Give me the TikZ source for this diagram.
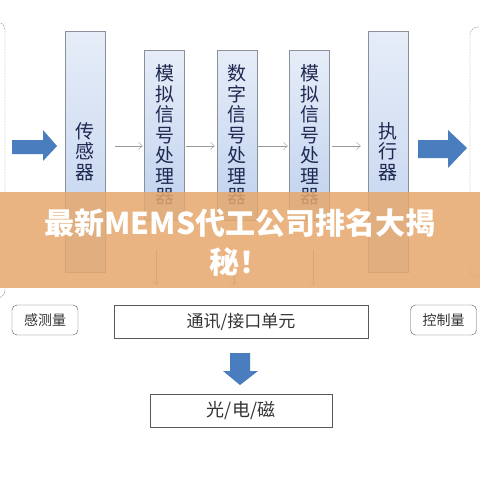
\documentclass[tikz,border=0pt]{standalone}
\usepackage{fontspec}
\setmainfont{Noto Sans CJK SC}
\usetikzlibrary{arrows.meta}
\definecolor{boxline}{HTML}{8A8F99}
\definecolor{boxtop}{HTML}{E6EDF8}
\definecolor{boxbot}{HTML}{BFD1EE}
\definecolor{textnavy}{HTML}{1E2850}
\definecolor{arrowblue}{HTML}{4A7DBE}
\definecolor{flowgray}{HTML}{9A9A9A}
\definecolor{bandorange}{HTML}{E6A86C}
\begin{document}
\begin{tikzpicture}[x=1pt,y=-1pt,
    stage/.style={draw=boxline,top color=boxtop,bottom color=boxbot,inner sep=0pt,
        minimum width=40pt,align=center,text=textnavy,font=\fontsize{19}{20.5}\selectfont},
    flow/.style={draw=flowgray,-{Straight Barb[length=4pt,width=7pt]}},
    plain/.style={draw=black!65,fill=white,inner sep=0pt,text=black!80},
    qty/.style={plain,rounded corners=5pt,minimum width=66pt,minimum height=30pt,
        font=\fontsize{14}{16}\selectfont},
    bigarrow/.style={fill=arrowblue},
    frame/.style={draw=black!45,dash pattern=on 2pt off 1pt,rounded corners=8pt}]
    \useasboundingbox[fill=white] (0,0) rectangle (480,480);
    % side frames
    \draw[frame] (-20,22) -- (5,22) -- (5,298) -- (-20,298);
    \draw[frame] (500,27) -- (470,27) -- (470,277) -- (500,277);
    % signal chain
    \node[stage,minimum height=241pt] (sensor) at (85,151.5) {传\\感\\器};
    \node[stage,minimum height=170pt] (analogA) at (164.5,135) {模\\拟\\信\\号\\处\\理\\器};
    \node[stage,minimum height=170pt] (digital) at (237,135) {数\\字\\信\\号\\处\\理\\器};
    \node[stage,minimum height=170pt] (analogB) at (309.5,135) {模\\拟\\信\\号\\处\\理\\器};
    \node[stage,minimum height=241pt] (actuator) at (388,151.5) {执\\行\\器};
    \coordinate (row) at (0,146);
    \foreach \from/\to/\pre/\post in {sensor/analogA/10/-1.5,analogA/digital/1.5/-2,
            digital/analogB/1/-1.5,analogB/actuator/2.5/-7}{
        \draw[flow] ([xshift=\pre pt]\from.east |- row) -- ([xshift=\post pt]\to.west |- row);
    }
    \foreach \unit/\dx in {analogA/-8.5,digital/-3,analogB/3.5}{
        \draw[flow] ([xshift=\dx pt,yshift=-30pt]\unit.south) -- ++(0,35);
    }
    % big arrows
    \fill[bigarrow] (12,140) -- (43,140) -- (43,130) -- (57,146) -- (43,161) -- (43,154) -- (12,154) -- cycle;
    \fill[bigarrow] (418,140) -- (448,140) -- (448,130) -- (467,148) -- (448,168) -- (448,158) -- (418,158) -- cycle;
    % bottom row
    \node[qty] (sensed) at (45,320) {感测量};
    \node[plain,minimum width=254pt,minimum height=33pt,font=\fontsize{17}{19}\selectfont] (comm) at (241,321.5) {通讯/接口单元};
    \node[qty] (control) at (443.5,320) {控制量};
    \fill[bigarrow] (230,353) -- (250,353) -- (250,371) -- (258,371) -- (240,385) -- (223,371) -- (230,371) -- cycle;
    \node[plain,minimum width=182pt,minimum height=33pt,font=\fontsize{18}{20}\selectfont] (field) at (241,410.5) {光/电/磁};
    % title band
    \fill[bandorange,opacity=0.85] (0,192) rectangle (480,288);
    \node[text=white,font=\bfseries\fontsize{30}{39}\selectfont,align=center] (title) at (240,242.5) {最新MEMS代工公司排名大揭\\秘！};
\end{tikzpicture}
\end{document}
